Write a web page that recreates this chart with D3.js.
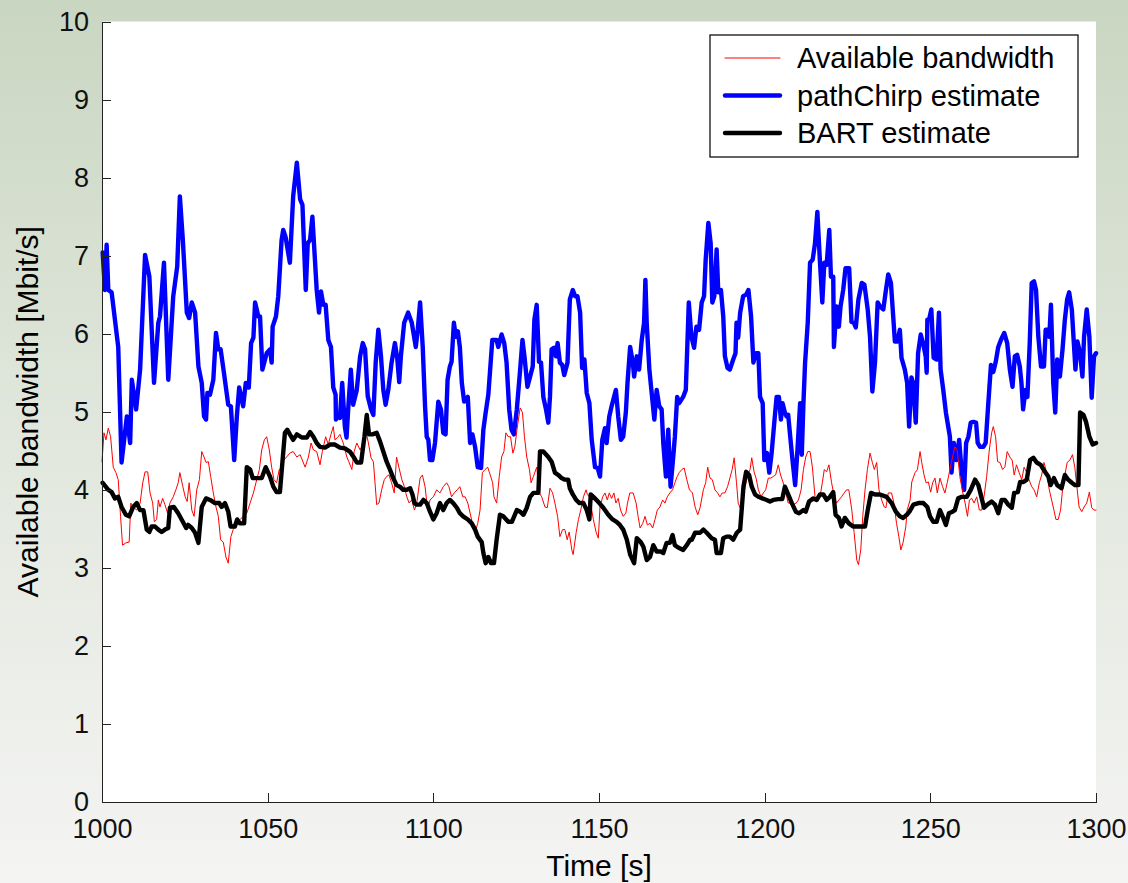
<!DOCTYPE html>
<meta charset="utf-8">
<style>
body { margin: 0; }
svg { display: block; font-family: "Liberation Sans", Arial, sans-serif; }
.axis path, .axis line { stroke: #222; shape-rendering: crispEdges; }
.axis text { font-size: 27px; fill: #111; }
.line { fill: none; stroke-linejoin: round; stroke-linecap: round; }
</style>
<body>
<div id="chart"></div>
<script src="https://cdn.jsdelivr.net/npm/d3@7"></script>
<script>
// tick labels
var timeTicks = [1000, 1050, 1100, 1150, 1200, 1250, 1300];
var rateTicks = [0, 1, 2, 3, 4, 5, 6, 7, 8, 9, 10];
var seriesNames = ["Available bandwidth", "pathChirp estimate", "BART estimate"];

// [time s, Mbit/s]
var availBw = [[1000.0,4.36],[1000.6,4.73],[1001.2,4.64],[1001.9,4.79],[1002.6,4.68],[1003.4,4.29],[1004.2,4.22],[1004.9,4.13],[1005.6,3.66],[1006.2,3.29],[1007.2,3.32],[1008.2,3.33],[1008.7,3.83],[1009.4,3.78],[1010.5,3.74],[1011.5,3.83],[1012.3,4.09],[1013.0,4.23],[1013.8,4.23],[1014.5,3.96],[1015.3,3.83],[1015.8,3.59],[1016.5,3.62],[1017.0,3.87],[1017.5,3.78],[1018.3,3.89],[1019.0,3.81],[1019.8,3.7],[1020.5,3.83],[1021.5,3.91],[1022.3,4.0],[1023.0,4.09],[1023.5,4.22],[1024.4,4.04],[1025.1,3.91],[1025.7,3.85],[1026.3,4.09],[1027.1,3.74],[1027.8,3.66],[1028.6,4.0],[1029.4,4.13],[1030.1,4.49],[1030.8,4.42],[1031.4,4.35],[1032.1,4.36],[1032.8,4.17],[1033.6,3.96],[1034.4,3.78],[1035.1,3.66],[1035.8,3.36],[1036.6,3.33],[1037.4,3.14],[1038.1,3.06],[1038.9,3.4],[1039.6,3.49],[1040.7,3.57],[1041.7,3.62],[1042.6,3.66],[1043.7,3.7],[1044.7,3.83],[1045.7,3.96],[1046.7,4.13],[1047.5,4.26],[1048.2,4.51],[1049.0,4.64],[1049.7,4.68],[1050.5,4.51],[1051.2,4.29],[1051.9,4.13],[1052.7,4.09],[1053.5,4.26],[1054.2,4.26],[1054.9,4.38],[1055.7,4.42],[1056.7,4.47],[1057.7,4.49],[1058.8,4.42],[1059.8,4.45],[1061.3,4.29],[1062.3,4.42],[1063.1,4.6],[1063.8,4.51],[1064.8,4.49],[1065.8,4.32],[1066.5,4.49],[1067.5,4.68],[1068.3,4.58],[1069.1,4.71],[1069.8,4.81],[1070.3,4.64],[1071.1,4.67],[1071.8,4.71],[1072.8,4.6],[1073.9,4.42],[1074.5,4.36],[1075.4,4.26],[1076.1,4.49],[1076.9,4.6],[1077.9,4.51],[1078.9,4.6],[1079.7,4.74],[1080.4,4.6],[1081.2,4.41],[1081.9,4.36],[1082.4,4.09],[1082.9,3.81],[1083.6,3.83],[1084.4,4.0],[1085.2,4.13],[1085.9,4.17],[1086.6,4.19],[1087.4,4.09],[1088.2,3.96],[1088.9,4.42],[1089.6,4.29],[1090.5,4.13],[1091.1,4.06],[1092.0,3.91],[1092.7,3.83],[1093.5,3.87],[1094.3,3.74],[1095.0,3.83],[1096.0,4.15],[1096.7,4.19],[1097.5,4.04],[1098.3,3.74],[1099.0,3.87],[1100.0,3.91],[1101.0,4.0],[1102.0,3.96],[1103.0,4.04],[1104.0,4.09],[1104.7,4.04],[1105.5,3.91],[1106.3,3.96],[1107.2,4.0],[1108.0,4.04],[1108.9,3.91],[1109.6,3.91],[1110.4,3.83],[1111.1,3.7],[1111.8,3.57],[1112.6,3.46],[1113.4,3.57],[1114.1,3.74],[1114.8,4.22],[1115.6,4.26],[1116.4,4.29],[1117.1,4.2],[1117.9,4.09],[1118.3,3.91],[1119.1,3.83],[1119.9,4.17],[1120.6,4.42],[1121.3,4.49],[1121.9,4.73],[1122.6,4.68],[1123.3,4.68],[1124.0,4.47],[1124.6,4.55],[1125.3,4.79],[1126.2,5.05],[1126.9,4.99],[1127.5,4.68],[1128.2,4.42],[1129.0,4.26],[1129.5,4.09],[1130.2,4.17],[1131.2,4.29],[1132.0,3.96],[1132.7,3.91],[1133.7,3.78],[1134.4,3.77],[1135.2,4.02],[1136.0,3.96],[1136.7,3.83],[1137.5,3.66],[1138.2,3.4],[1139.0,3.49],[1139.7,3.49],[1140.4,3.36],[1141.0,3.46],[1141.8,3.23],[1142.2,3.17],[1143.1,3.45],[1143.8,3.62],[1144.5,3.74],[1145.3,3.91],[1146.1,4.0],[1146.5,3.94],[1147.1,3.91],[1148.3,3.62],[1149.1,3.46],[1149.8,3.38],[1150.3,3.78],[1151.1,3.91],[1151.8,3.96],[1152.5,3.87],[1153.1,3.96],[1153.8,3.89],[1154.5,3.96],[1155.1,3.83],[1155.8,3.89],[1156.5,3.74],[1157.3,3.66],[1158.1,3.7],[1158.6,3.83],[1159.3,3.96],[1160.3,3.96],[1161.2,3.83],[1161.8,3.66],[1162.4,3.51],[1163.2,3.57],[1163.9,3.66],[1164.6,3.55],[1165.4,3.57],[1166.2,3.51],[1166.9,3.62],[1167.6,3.74],[1168.4,3.78],[1169.2,3.87],[1169.9,3.83],[1170.6,3.91],[1171.4,3.96],[1172.2,4.0],[1172.9,4.09],[1173.6,4.17],[1174.2,4.22],[1175.0,4.26],[1175.7,4.28],[1176.5,4.13],[1177.3,4.0],[1178.2,3.96],[1179.0,3.78],[1179.8,3.68],[1180.5,3.77],[1181.5,4.0],[1182.2,4.09],[1182.8,4.29],[1183.5,4.15],[1184.2,4.13],[1185.0,4.0],[1185.8,3.96],[1186.5,3.91],[1187.2,3.96],[1188.0,3.96],[1188.8,4.04],[1189.5,4.15],[1190.2,4.26],[1190.8,4.41],[1191.5,4.09],[1192.0,3.83],[1192.6,3.77],[1193.3,3.83],[1194.1,4.04],[1194.9,4.19],[1195.6,4.26],[1196.1,4.41],[1196.8,4.23],[1197.4,4.15],[1198.1,4.0],[1198.9,3.91],[1199.6,3.96],[1200.3,4.0],[1201.1,4.15],[1201.9,4.15],[1202.6,4.17],[1203.3,4.19],[1204.1,4.32],[1204.8,4.19],[1205.6,4.09],[1206.4,3.96],[1207.1,3.83],[1207.9,3.83],[1208.6,3.81],[1209.5,3.83],[1210.2,3.87],[1211.0,4.0],[1211.7,4.26],[1212.4,4.42],[1213.0,4.49],[1213.7,4.49],[1214.4,4.29],[1215.2,3.91],[1216.0,3.85],[1216.7,3.91],[1217.4,4.09],[1218.0,4.26],[1218.7,4.23],[1219.4,4.32],[1220.2,4.09],[1221.0,3.91],[1221.7,3.83],[1222.4,3.87],[1223.2,3.91],[1224.0,3.96],[1224.7,4.0],[1225.4,4.0],[1226.3,3.74],[1227.0,3.45],[1227.8,3.1],[1228.3,3.04],[1229.0,3.23],[1229.6,3.66],[1230.3,4.0],[1231.0,4.26],[1231.8,4.47],[1232.5,4.35],[1233.1,4.26],[1233.8,4.35],[1234.5,4.0],[1235.3,3.87],[1236.1,3.78],[1236.6,3.77],[1237.3,3.96],[1238.3,3.96],[1239.0,3.83],[1239.8,3.57],[1240.5,3.4],[1241.1,3.23],[1241.8,3.33],[1242.6,3.53],[1243.0,3.74],[1243.9,3.87],[1244.4,4.1],[1245.4,4.22],[1246.1,4.26],[1246.9,4.49],[1247.4,4.35],[1248.1,4.19],[1248.7,4.09],[1249.4,4.1],[1250.1,3.97],[1250.7,4.09],[1251.4,4.15],[1252.1,3.96],[1252.9,4.15],[1253.7,4.04],[1254.4,3.96],[1255.1,4.09],[1255.9,4.26],[1256.7,4.42],[1257.4,4.55],[1258.1,4.51],[1258.9,4.17],[1259.8,3.96],[1260.5,3.83],[1261.2,3.66],[1261.8,3.87],[1262.5,3.89],[1263.2,3.83],[1264.0,3.91],[1264.8,3.74],[1265.5,3.74],[1266.2,3.91],[1267.0,4.17],[1267.8,4.51],[1268.5,4.73],[1269.0,4.81],[1269.7,4.68],[1270.3,4.36],[1271.0,4.35],[1271.8,4.26],[1272.5,4.29],[1273.2,4.49],[1274.0,4.42],[1274.7,4.38],[1275.3,4.19],[1276.0,4.32],[1276.8,4.22],[1277.6,4.13],[1278.3,4.29],[1279.1,4.22],[1279.8,4.13],[1280.6,4.04],[1281.3,4.0],[1282.1,3.91],[1282.9,4.09],[1283.6,4.19],[1284.3,4.35],[1285.1,4.22],[1285.9,4.0],[1286.6,3.87],[1287.3,3.74],[1287.9,3.62],[1288.6,3.62],[1289.3,3.74],[1289.9,4.0],[1290.6,4.19],[1291.3,4.35],[1292.1,4.38],[1292.9,4.45],[1293.6,4.29],[1294.1,4.09],[1294.9,3.78],[1295.7,3.72],[1296.4,3.78],[1297.2,3.83],[1298.0,3.97],[1298.7,3.77],[1299.4,3.74],[1300.0,3.74]];

var pathChirp = [[1000.2,7.04],[1000.9,6.56],[1001.4,7.14],[1001.9,6.56],[1002.9,6.53],[1004.9,5.83],[1005.9,4.35],[1007.5,4.94],[1008.5,4.6],[1009.0,5.41],[1010.3,5.03],[1011.5,5.54],[1013.0,7.01],[1014.3,6.73],[1015.7,5.37],[1017.0,6.14],[1017.5,6.22],[1018.7,6.91],[1020.0,5.41],[1021.5,6.48],[1022.7,6.86],[1023.5,7.76],[1024.4,7.2],[1025.6,6.27],[1026.3,6.2],[1027.1,6.4],[1028.1,6.27],[1029.1,5.58],[1030.1,5.37],[1030.8,4.94],[1031.4,4.9],[1031.8,5.24],[1032.6,5.22],[1033.6,5.41],[1034.4,6.01],[1035.1,5.8],[1035.8,5.8],[1036.8,5.5],[1038.1,5.09],[1038.9,5.07],[1039.9,4.38],[1040.7,4.94],[1041.4,5.31],[1042.6,5.07],[1043.4,5.37],[1044.3,5.31],[1045.0,5.88],[1045.7,5.95],[1046.2,6.4],[1047.2,6.22],[1047.7,6.22],[1048.4,5.54],[1049.7,5.75],[1050.7,5.8],[1051.2,5.63],[1051.5,6.09],[1052.5,6.22],[1053.2,6.48],[1054.2,7.2],[1054.7,7.33],[1055.4,7.24],[1056.7,6.91],[1057.7,7.76],[1058.8,8.19],[1059.8,7.72],[1060.5,7.65],[1061.5,6.56],[1062.1,7.16],[1062.8,7.2],[1063.5,7.5],[1064.8,6.56],[1065.5,6.27],[1066.1,6.54],[1066.8,6.37],[1067.5,6.37],[1068.3,5.92],[1069.1,5.83],[1069.8,5.31],[1070.5,5.22],[1070.6,4.9],[1071.3,4.94],[1071.8,4.92],[1072.5,5.37],[1073.3,4.81],[1073.8,4.67],[1074.3,5.03],[1075.1,5.54],[1075.8,5.09],[1076.9,5.28],[1077.9,5.71],[1078.7,5.88],[1079.4,5.8],[1080.2,5.2],[1081.2,5.03],[1081.9,4.96],[1082.6,5.63],[1083.4,6.05],[1084.2,5.71],[1084.9,5.28],[1085.6,5.09],[1086.4,5.28],[1087.4,5.63],[1088.4,5.88],[1089.1,5.69],[1089.7,5.38],[1090.2,5.71],[1091.2,6.14],[1092.4,6.27],[1093.5,6.14],[1094.7,5.83],[1095.3,6.05],[1096.0,6.4],[1096.8,5.83],[1097.5,5.07],[1098.0,4.68],[1098.5,4.64],[1099.0,4.38],[1099.7,4.38],[1100.5,4.6],[1101.5,5.13],[1102.3,5.03],[1103.0,4.73],[1103.7,4.71],[1104.3,5.41],[1105.0,5.58],[1105.5,5.64],[1106.2,6.14],[1106.8,5.96],[1107.4,6.03],[1108.0,5.83],[1108.6,5.37],[1109.3,5.13],[1110.4,5.19],[1111.1,4.6],[1111.8,4.71],[1112.6,4.55],[1113.4,4.29],[1114.4,4.28],[1115.1,4.77],[1115.8,4.99],[1116.6,5.22],[1117.8,5.92],[1119.1,5.92],[1119.6,5.83],[1120.6,5.99],[1121.4,5.88],[1122.1,5.63],[1122.9,5.03],[1123.6,4.77],[1124.3,4.71],[1125.2,5.03],[1126.2,5.54],[1126.9,5.92],[1127.5,5.71],[1128.4,5.32],[1129.2,5.45],[1130.0,5.58],[1130.5,6.18],[1131.2,6.37],[1131.9,5.64],[1132.5,5.63],[1133.2,5.19],[1134.0,5.03],[1134.7,4.86],[1135.2,5.19],[1135.7,5.8],[1136.4,5.82],[1137.0,5.71],[1137.5,5.88],[1138.2,5.63],[1138.9,5.6],[1139.5,5.47],[1140.5,5.63],[1141.2,6.44],[1142.1,6.56],[1142.8,6.48],[1143.5,6.48],[1144.3,6.27],[1144.9,5.56],[1145.6,5.67],[1146.3,5.24],[1147.1,5.11],[1147.8,4.64],[1148.8,4.29],[1149.6,4.28],[1150.3,4.17],[1151.0,4.64],[1151.8,4.79],[1152.3,4.6],[1153.1,4.94],[1153.8,5.07],[1155.1,5.28],[1155.8,4.94],[1156.6,4.64],[1157.3,4.68],[1158.1,4.99],[1158.6,5.37],[1159.4,5.83],[1160.2,5.63],[1160.6,5.45],[1161.4,5.71],[1162.1,5.54],[1162.9,5.92],[1163.6,6.14],[1164.0,6.69],[1164.4,6.14],[1165.2,5.54],[1165.9,5.24],[1166.7,4.9],[1167.4,5.28],[1168.2,5.07],[1168.9,5.03],[1169.4,4.6],[1170.2,4.17],[1170.9,4.77],[1171.6,4.04],[1172.4,4.42],[1172.9,4.68],[1173.6,5.19],[1174.2,5.11],[1175.4,5.19],[1176.2,5.28],[1177.1,6.4],[1177.9,5.96],[1178.7,5.82],[1179.4,6.09],[1180.2,6.05],[1181.0,6.4],[1181.7,6.48],[1182.2,6.95],[1183.0,7.42],[1183.7,7.16],[1184.2,6.4],[1184.8,6.48],[1185.5,7.08],[1186.0,6.53],[1186.8,6.56],[1187.5,6.22],[1188.0,5.71],[1188.8,5.56],[1189.5,5.54],[1190.5,5.67],[1191.2,5.75],[1191.5,6.14],[1192.0,5.95],[1192.6,6.27],[1193.5,6.48],[1194.4,6.5],[1195.1,6.56],[1195.9,6.22],[1196.6,5.63],[1197.3,5.75],[1198.1,5.75],[1198.6,5.19],[1199.4,5.11],[1199.9,4.38],[1200.7,4.47],[1201.4,4.22],[1202.1,4.47],[1202.9,4.86],[1203.6,5.19],[1204.3,5.19],[1204.9,4.9],[1205.4,5.11],[1206.1,4.99],[1206.6,4.94],[1207.1,4.96],[1207.9,4.6],[1208.4,4.38],[1209.2,4.06],[1209.9,4.51],[1210.7,5.11],[1211.2,4.45],[1211.7,5.11],[1212.2,5.63],[1213.0,6.14],[1213.7,6.91],[1214.5,6.95],[1215.2,7.16],[1215.9,7.56],[1216.7,6.91],[1217.4,6.4],[1218.0,6.91],[1218.7,6.88],[1219.5,7.33],[1220.0,6.73],[1220.7,6.73],[1220.9,5.83],[1221.7,6.35],[1222.4,6.09],[1222.9,6.35],[1223.7,6.56],[1224.4,6.84],[1225.5,6.84],[1226.2,6.15],[1226.9,6.14],[1227.5,6.08],[1228.3,6.44],[1229.3,6.65],[1230.1,6.63],[1231.1,6.31],[1231.8,5.96],[1232.5,5.26],[1233.3,5.63],[1234.1,6.4],[1234.8,6.35],[1235.8,6.31],[1236.6,6.56],[1237.3,6.76],[1238.1,6.65],[1238.8,6.22],[1239.3,5.9],[1240.1,5.9],[1240.8,6.05],[1241.3,5.69],[1242.3,5.54],[1243.0,5.37],[1243.6,4.81],[1244.3,5.44],[1244.8,5.37],[1245.6,4.86],[1246.3,5.75],[1247.1,5.99],[1247.9,5.86],[1248.6,5.71],[1248.9,5.5],[1249.1,6.18],[1249.6,6.18],[1250.3,6.31],[1251.0,5.69],[1251.9,5.67],[1252.6,6.27],[1253.1,5.54],[1253.9,5.28],[1254.7,4.99],[1255.4,4.81],[1255.9,4.68],[1256.4,4.22],[1257.1,4.6],[1257.9,4.38],[1258.7,4.64],[1259.4,4.26],[1260.2,4.0],[1260.8,4.6],[1261.5,4.68],[1262.2,4.86],[1263.0,4.87],[1263.8,4.86],[1264.3,4.6],[1265.0,4.55],[1266.0,4.55],[1266.7,4.6],[1267.5,5.11],[1268.3,5.6],[1269.0,5.51],[1269.7,5.63],[1270.5,5.83],[1271.3,5.92],[1272.3,6.01],[1273.2,5.88],[1274.0,5.54],[1274.8,5.32],[1275.5,5.71],[1276.2,5.73],[1277.0,5.58],[1277.5,5.37],[1278.0,5.03],[1278.7,5.28],[1279.3,5.19],[1280.0,5.88],[1280.6,6.65],[1281.3,6.67],[1281.9,6.56],[1282.6,5.96],[1283.4,5.58],[1284.3,5.58],[1284.8,6.05],[1285.4,6.05],[1285.9,5.96],[1286.4,6.37],[1287.1,5.37],[1287.7,4.99],[1288.3,5.67],[1289.1,5.45],[1289.9,5.8],[1290.6,6.18],[1291.3,6.44],[1291.9,6.53],[1292.7,6.31],[1293.2,5.96],[1293.8,5.54],[1294.4,5.9],[1295.2,5.75],[1295.9,5.45],[1296.4,5.96],[1297.2,6.31],[1298.0,5.96],[1298.7,5.18],[1299.4,5.71],[1300.0,5.75]];

var bart = [[1000.2,4.09],[1001.9,4.0],[1002.9,3.97],[1003.9,3.89],[1004.9,3.91],[1005.9,3.78],[1007.2,3.68],[1008.2,3.66],[1009.4,3.78],[1010.5,3.83],[1011.5,3.74],[1012.5,3.74],[1013.5,3.49],[1014.3,3.46],[1015.0,3.53],[1016.0,3.53],[1017.0,3.49],[1018.0,3.46],[1019.0,3.49],[1020.0,3.51],[1020.5,3.77],[1021.7,3.78],[1023.0,3.7],[1024.4,3.59],[1025.4,3.51],[1026.0,3.55],[1027.1,3.51],[1028.1,3.45],[1029.1,3.32],[1030.1,3.78],[1031.4,3.89],[1032.6,3.87],[1034.1,3.83],[1035.4,3.83],[1036.1,3.78],[1037.1,3.83],[1038.1,3.72],[1038.8,3.53],[1040.1,3.53],[1040.8,3.62],[1041.6,3.57],[1042.9,3.57],[1043.7,4.29],[1044.7,4.26],[1045.5,4.15],[1046.7,4.15],[1048.2,4.15],[1049.4,4.29],[1050.7,4.17],[1051.7,4.04],[1052.7,3.97],[1053.7,3.97],[1054.5,4.38],[1055.2,4.73],[1055.9,4.77],[1056.7,4.71],[1057.7,4.64],[1058.8,4.71],[1060.3,4.67],[1061.8,4.67],[1062.8,4.74],[1063.8,4.68],[1064.8,4.6],[1065.8,4.55],[1067.3,4.54],[1068.8,4.58],[1070.3,4.58],[1071.8,4.54],[1073.3,4.53],[1074.8,4.49],[1076.1,4.41],[1076.9,4.35],[1078.2,4.35],[1079.2,4.68],[1079.9,4.96],[1080.6,4.71],[1081.6,4.71],[1082.9,4.73],[1083.9,4.62],[1084.9,4.49],[1085.9,4.36],[1086.9,4.26],[1087.9,4.15],[1088.9,4.06],[1089.9,4.04],[1090.9,4.0],[1092.0,4.0],[1093.0,4.02],[1093.7,3.94],[1094.3,3.83],[1095.0,3.81],[1096.0,3.81],[1097.0,3.87],[1098.0,3.83],[1099.0,3.72],[1100.0,3.62],[1101.0,3.7],[1102.0,3.83],[1103.0,3.74],[1104.0,3.83],[1105.0,3.87],[1106.0,3.83],[1107.1,3.77],[1108.0,3.7],[1109.0,3.66],[1110.4,3.62],[1111.6,3.57],[1112.6,3.49],[1113.4,3.4],[1114.6,3.33],[1115.1,3.19],[1115.8,3.06],[1116.6,3.14],[1117.4,3.06],[1118.3,3.06],[1119.1,3.36],[1120.1,3.68],[1121.1,3.66],[1122.6,3.59],[1123.7,3.59],[1125.2,3.74],[1126.2,3.72],[1127.2,3.68],[1128.2,3.77],[1129.2,3.91],[1130.2,3.96],[1131.7,3.96],[1132.2,4.49],[1133.2,4.49],[1134.7,4.42],[1135.7,4.36],[1136.7,4.22],[1137.7,4.19],[1138.7,4.15],[1139.7,4.13],[1140.7,4.13],[1141.2,4.02],[1142.1,3.94],[1143.1,3.87],[1144.1,3.83],[1145.3,3.83],[1146.3,3.74],[1147.1,3.62],[1147.5,3.94],[1148.8,3.89],[1150.1,3.83],[1151.3,3.77],[1152.8,3.68],[1154.1,3.62],[1155.3,3.59],[1156.3,3.55],[1157.3,3.49],[1158.4,3.36],[1159.4,3.17],[1160.6,3.06],[1161.4,3.38],[1162.6,3.33],[1163.4,3.27],[1164.4,3.1],[1165.4,3.14],[1166.4,3.29],[1167.4,3.21],[1168.6,3.21],[1169.4,3.19],[1170.4,3.32],[1171.4,3.32],[1172.2,3.42],[1172.9,3.29],[1173.9,3.26],[1175.4,3.23],[1176.5,3.29],[1177.5,3.36],[1178.0,3.36],[1179.0,3.45],[1180.5,3.45],[1181.5,3.49],[1182.5,3.45],[1184.0,3.38],[1185.0,3.36],[1185.5,3.19],[1186.8,3.19],[1187.5,3.38],[1188.5,3.4],[1189.5,3.4],[1190.5,3.36],[1191.6,3.45],[1192.6,3.49],[1193.6,4.04],[1194.4,4.23],[1195.3,4.19],[1196.1,4.04],[1197.1,3.94],[1198.1,3.91],[1199.3,3.89],[1200.6,3.87],[1201.6,3.85],[1202.6,3.87],[1204.1,3.88],[1205.3,3.88],[1206.1,4.04],[1207.1,3.94],[1208.2,3.83],[1209.4,3.72],[1210.4,3.7],[1211.7,3.74],[1212.4,3.72],[1213.4,3.85],[1214.7,3.89],[1215.7,3.87],[1216.7,3.94],[1217.7,3.94],[1218.7,3.87],[1219.7,3.91],[1220.7,3.97],[1221.4,3.68],[1222.4,3.64],[1223.2,3.53],[1224.2,3.64],[1225.4,3.57],[1226.7,3.53],[1228.3,3.53],[1230.3,3.53],[1231.1,3.74],[1232.1,3.96],[1233.3,3.94],[1234.8,3.94],[1236.8,3.91],[1238.3,3.83],[1239.6,3.72],[1240.8,3.66],[1241.8,3.64],[1242.9,3.68],[1243.7,3.72],[1244.9,3.81],[1246.4,3.83],[1247.9,3.83],[1249.1,3.78],[1249.9,3.66],[1250.9,3.59],[1251.9,3.59],[1252.9,3.74],[1253.9,3.64],[1254.7,3.55],[1255.6,3.7],[1256.7,3.72],[1257.4,3.74],[1258.4,3.89],[1259.5,3.91],[1261.0,3.91],[1262.2,4.0],[1263.5,4.13],[1264.5,4.06],[1265.5,3.89],[1266.2,3.77],[1267.2,3.81],[1268.5,3.85],[1269.5,3.81],[1270.5,3.7],[1271.5,3.87],[1272.5,3.87],[1273.5,3.81],[1274.6,3.77],[1275.3,3.96],[1276.4,3.97],[1277.1,4.1],[1278.1,4.1],[1279.1,4.13],[1280.1,4.38],[1281.1,4.41],[1282.1,4.35],[1283.3,4.32],[1284.6,4.23],[1285.6,4.17],[1286.3,4.06],[1287.3,4.15],[1288.3,4.06],[1289.6,4.02],[1290.6,4.19],[1291.6,4.13],[1292.7,4.09],[1293.7,4.06],[1294.7,4.06],[1295.2,4.99],[1296.2,4.96],[1297.0,4.87],[1298.0,4.68],[1299.0,4.58],[1300.0,4.6]];

var W = 1128, H = 883;
var margin = {left: 102, right: 32, top: 21.5, bottom: 81};

var svg = d3.select("#chart").append("svg")
    .attr("width", W)
    .attr("height", H);

var grad = svg.append("defs").append("linearGradient")
    .attr("id", "bg")
    .attr("x1", 0).attr("y1", 0).attr("x2", 0).attr("y2", 1);
grad.append("stop").attr("offset", "0%").attr("stop-color", "#c9d6c1");
grad.append("stop").attr("offset", "55%").attr("stop-color", "#e4e9e0");
grad.append("stop").attr("offset", "100%").attr("stop-color", "#f4f4f3");

svg.append("rect").attr("width", W).attr("height", H).attr("fill", "url(#bg)");

var x = d3.scaleLinear().domain([1000, 1300]).range([margin.left, W - margin.right]);
var y = d3.scaleLinear().domain([0, 10]).range([H - margin.bottom, margin.top]);

svg.append("rect")
    .attr("x", x(1000)).attr("y", y(10))
    .attr("width", x(1300) - x(1000))
    .attr("height", y(0) - y(10))
    .attr("fill", "#fff");

var line = d3.line()
    .x(function(d) { return x(d[0]); })
    .y(function(d) { return y(d[1]); });

svg.append("path").datum(pathChirp).attr("class", "line")
    .attr("stroke", "#0000ff").attr("stroke-width", 4.4).attr("d", line);
svg.append("path").datum(availBw).attr("class", "line")
    .attr("stroke", "#ff0000").attr("stroke-width", 1).attr("d", line);
svg.append("path").datum(bart).attr("class", "line")
    .attr("stroke", "#000").attr("stroke-width", 4.4).attr("d", line);

// axes, ticks pointing inward
var xAxis = d3.axisBottom(x).tickValues(timeTicks).tickFormat(d3.format("d"))
    .tickSize(-9).tickSizeOuter(0).tickPadding(17);
var yAxis = d3.axisLeft(y).tickValues(rateTicks).tickFormat(d3.format("d"))
    .tickSize(-9).tickSizeOuter(0).tickPadding(13);

svg.append("g").attr("class", "axis")
    .attr("transform", "translate(0," + y(0) + ")")
    .call(xAxis);
svg.append("g").attr("class", "axis")
    .attr("transform", "translate(" + x(1000) + ",0)")
    .call(yAxis);

svg.selectAll(".axis .domain").attr("stroke-width", 1.2);

svg.append("text")
    .attr("x", (x(1000) + x(1300)) / 2)
    .attr("y", 876)
    .attr("text-anchor", "middle")
    .style("font-size", "30px")
    .text("Time [s]");

svg.append("text")
    .attr("transform", "translate(38," + ((y(0) + y(10)) / 2) + ") rotate(-90)")
    .attr("text-anchor", "middle")
    .style("font-size", "30px")
    .text("Available bandwidth [Mbit/s]");

// legend
var legend = svg.append("g").attr("transform", "translate(710,35)");
legend.append("rect")
    .attr("width", 368).attr("height", 122)
    .attr("fill", "#fff").attr("stroke", "#111").attr("stroke-width", 1.3);

var legendStyle = [
  {color: "#ff0000", width: 1},
  {color: "#0000ff", width: 4.4},
  {color: "#000", width: 4.4}
];

var item = legend.selectAll(".item")
    .data(seriesNames)
    .enter().append("g")
    .attr("transform", function(d, i) { return "translate(0," + (23 + i * 37.5) + ")"; });

item.append("line")
    .attr("x1", 15).attr("x2", 70)
    .attr("stroke", function(d, i) { return legendStyle[i].color; })
    .attr("stroke-width", function(d, i) { return legendStyle[i].width; })
    .attr("stroke-linecap", "round");

item.append("text")
    .attr("x", 87)
    .attr("dy", "0.35em")
    .style("font-size", "29px")
    .text(function(d) { return d; });
</script>
</body>
